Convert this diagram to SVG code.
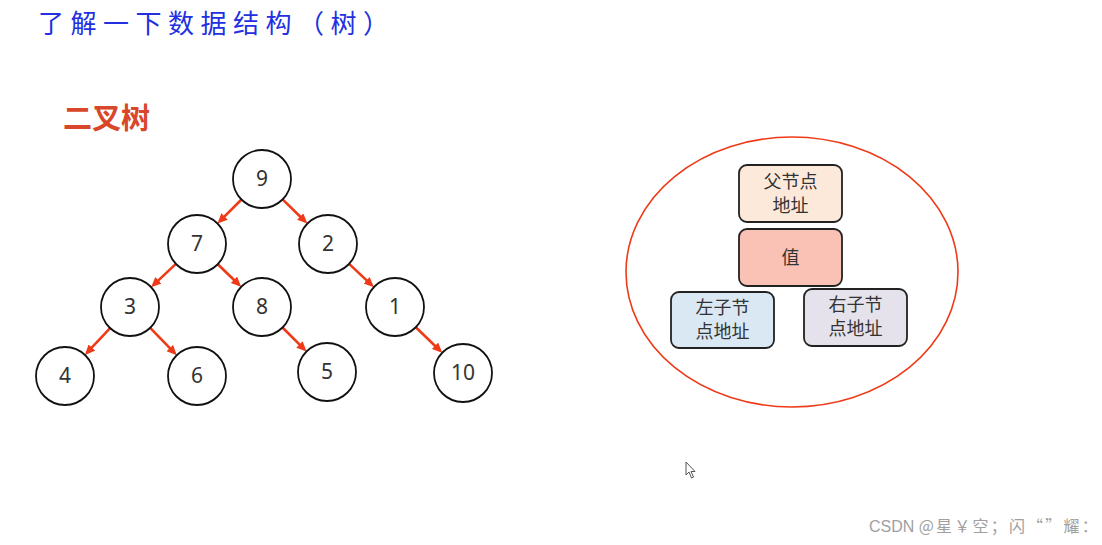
<svg xmlns="http://www.w3.org/2000/svg" width="1102" height="545" viewBox="0 0 1102 545">
<style>
.title{font-family:"Noto Sans CJK SC",sans-serif;font-size:26px;fill:#2230e0;letter-spacing:6.5px}
.sub{font-family:"Noto Sans CJK SC",sans-serif;font-size:29px;font-weight:bold;fill:#d9472b}
.node circle{fill:#fff;stroke:#111;stroke-width:1.8}
.node text{font-family:"Noto Sans","Open Sans",sans-serif;font-size:21px;fill:#333;text-anchor:middle}
.edge{stroke:#ee3a18;stroke-width:2.6;fill:none;marker-end:url(#ah)}
.box rect{stroke:#222;stroke-width:1.8}
.box text{font-family:"Noto Sans CJK SC",sans-serif;font-size:18px;fill:#333;text-anchor:middle}
.wm{font-family:"Liberation Sans","Noto Sans CJK SC",sans-serif;font-size:16px;fill:#a0a0a0}
.wmc{font-family:"Noto Sans CJK SC",sans-serif;letter-spacing:2.2px}
</style>
<defs>
<marker id="ah" markerUnits="userSpaceOnUse" markerWidth="11" markerHeight="10" refX="7" refY="4.5" orient="auto">
<path d="M0,0 L10,4.5 L0,9 z" fill="#ee3a18"/>
</marker>
</defs>
<rect width="1102" height="545" fill="#fff"/>
<text class="title" x="38" y="33">了解一下数据结构（树）</text>
<text class="sub" x="63" y="129">二叉树</text>

<g id="connectors">
<line class="edge" x1="241.5" y1="199.5" x2="219.6" y2="221.4"/>
<line class="edge" x1="282.6" y1="199.4" x2="305.2" y2="221.5"/>
<line class="edge" x1="175.9" y1="263.9" x2="153.3" y2="285.1"/>
<line class="edge" x1="217.8" y1="264.2" x2="239" y2="284.7"/>
<line class="edge" x1="349.1" y1="263.9" x2="371.7" y2="285.1"/>
<line class="edge" x1="110.1" y1="328.1" x2="87" y2="352.7"/>
<line class="edge" x1="150.2" y1="327.8" x2="174.7" y2="353.1"/>
<line class="edge" x1="282.5" y1="327.5" x2="304.4" y2="349.4"/>
<line class="edge" x1="415.8" y1="327.2" x2="440.1" y2="350.7"/>
</g>

<g id="n9" class="node"><circle cx="262" cy="179" r="29"/><text x="262" y="186">9</text></g>
<g id="n7" class="node"><circle cx="197" cy="244" r="29"/><text x="197" y="251">7</text></g>
<g id="n2" class="node"><circle cx="328" cy="244" r="29"/><text x="328" y="251">2</text></g>
<g id="n3" class="node"><circle cx="130" cy="307" r="29"/><text x="130" y="314">3</text></g>
<g id="n8" class="node"><circle cx="262" cy="307" r="29"/><text x="262" y="314">8</text></g>
<g id="n1" class="node"><circle cx="395" cy="307" r="29"/><text x="395" y="314">1</text></g>
<g id="n4" class="node"><circle cx="65" cy="376" r="29"/><text x="65" y="383">4</text></g>
<g id="n6" class="node"><circle cx="197" cy="376" r="29"/><text x="197" y="383">6</text></g>
<g id="n5" class="node"><circle cx="327" cy="372" r="29"/><text x="327" y="379">5</text></g>
<g id="n10" class="node"><circle cx="463" cy="373" r="29"/><text x="463" y="380">10</text></g>

<g id="nodeStruct">
<ellipse cx="792" cy="272" rx="166" ry="135" fill="none" stroke="#ee3a18" stroke-width="1.6"/>
</g>
<g id="parentAddr" class="box"><rect x="739" y="165" width="103" height="57" rx="8" fill="#fde9da"/><text x="790.5" y="188">父节点</text><text x="790.5" y="212">地址</text></g>
<g id="value" class="box"><rect x="739" y="229" width="103" height="57" rx="8" fill="#f9c2b5"/><text x="790.5" y="264">值</text></g>
<g id="leftAddr" class="box"><rect x="671" y="292" width="103" height="56" rx="8" fill="#dae8f4"/><text x="722.5" y="314">左子节</text><text x="722.5" y="338">点地址</text></g>
<g id="rightAddr" class="box"><rect x="804" y="289" width="103" height="57" rx="8" fill="#e5e2ec"/><text x="855.5" y="311">右子节</text><text x="855.5" y="335">点地址</text></g>

<path d="M686,462 L686,475 L689,472 L691.5,478 L693.5,477 L691,471.5 L695,471.5 z" fill="#fff" stroke="#555" stroke-width="1"/>
<text class="wm" x="869" y="532">CSDN <tspan class="wmc">@星￥空；闪“”耀：</tspan></text>
</svg>
